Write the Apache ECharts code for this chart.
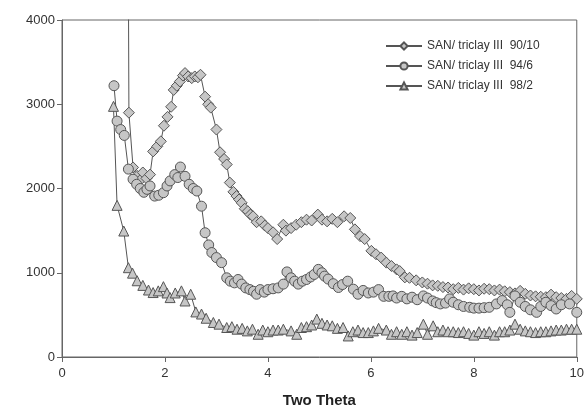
<!DOCTYPE html>
<html><head><meta charset="utf-8">
<script src="https://cdn.jsdelivr.net/npm/echarts@6/dist/echarts.min.js"></script>
<style>html,body{margin:0;padding:0;background:#fff}#c{width:587px;height:413px}</style>
</head><body><div id="c"></div>
<script>
const seriesNames = ['SAN/ triclay III  90/10', 'SAN/ triclay III  94/6', 'SAN/ triclay III  98/2'];
const xTicks = [0, 2, 4, 6, 8, 10];
const yTicks = [0, 1000, 2000, 3000, 4000];

const x9010 = [1.28,1.30,1.38,1.46,1.52,1.57,1.64,1.71,1.77,1.85,1.92,1.98,2.05,2.12,2.17,2.23,2.29,2.35,2.39,2.45,2.52,2.58,2.64,2.69,2.78,2.84,2.89,3.0,3.07,3.15,3.2,3.26,3.33,3.39,3.44,3.49,3.55,3.61,3.66,3.71,3.78,3.87,3.94,4.0,4.1,4.18,4.3,4.35,4.45,4.55,4.65,4.75,4.85,4.97,5.05,5.15,5.25,5.35,5.48,5.6,5.69,5.79,5.88,6.01,6.1,6.2,6.3,6.4,6.5,6.56,6.66,6.75,6.88,7.0,7.1,7.2,7.3,7.4,7.5,7.6,7.7,7.8,7.9,8.0,8.1,8.2,8.3,8.4,8.5,8.6,8.7,8.8,8.9,9.0,9.1,9.2,9.3,9.4,9.5,9.6,9.7,9.8,9.9,10.0];
const y9010 = [6000,2900,2250,2150,2100,2190,2120,2165,2440,2500,2560,2745,2850,2970,3170,3220,3270,3340,3370,3330,3310,3330,3320,3350,3090,3000,2960,2700,2430,2350,2285,2070,1960,1910,1870,1830,1760,1730,1690,1670,1600,1610,1560,1530,1480,1400,1570,1500,1530,1570,1600,1630,1620,1690,1630,1610,1640,1600,1670,1650,1515,1435,1400,1260,1220,1180,1120,1080,1040,1020,945,940,910,885,870,850,845,830,825,805,820,800,815,805,790,810,805,790,800,780,770,755,785,750,730,720,715,710,740,710,700,690,725,690];

const x946 = [1.01,1.07,1.14,1.21,1.29,1.38,1.45,1.52,1.59,1.65,1.71,1.8,1.88,1.97,2.04,2.1,2.19,2.25,2.3,2.39,2.47,2.55,2.62,2.71,2.78,2.85,2.91,3.0,3.1,3.2,3.27,3.35,3.42,3.49,3.57,3.65,3.72,3.78,3.85,3.93,4.0,4.1,4.2,4.3,4.37,4.45,4.52,4.59,4.67,4.75,4.83,4.9,4.98,5.05,5.1,5.17,5.27,5.37,5.45,5.55,5.66,5.75,5.85,5.95,6.05,6.15,6.25,6.35,6.43,6.5,6.6,6.7,6.8,6.9,7.02,7.1,7.2,7.27,7.35,7.45,7.53,7.6,7.7,7.8,7.92,8.0,8.1,8.2,8.3,8.44,8.55,8.65,8.7,8.8,8.9,9.0,9.1,9.22,9.3,9.4,9.5,9.6,9.7,9.86,10.0];
const y946 = [3220,2800,2700,2630,2230,2110,2050,2000,1955,1990,2030,1910,1920,1950,2030,2090,2165,2130,2255,2145,2050,2000,1970,1790,1475,1330,1240,1180,1120,940,900,880,920,865,820,800,780,745,800,770,800,810,820,865,1010,940,900,865,900,920,950,980,1040,1000,960,925,870,825,860,900,805,745,790,760,770,800,720,720,725,700,720,690,710,680,725,700,665,645,630,640,690,650,620,600,590,580,580,585,590,630,670,620,530,725,650,600,560,530,600,650,610,570,620,630,530];

const x982 = [1.0,1.07,1.2,1.29,1.37,1.46,1.57,1.68,1.77,1.87,1.97,2.04,2.1,2.2,2.32,2.39,2.5,2.6,2.71,2.8,2.94,3.05,3.2,3.3,3.4,3.5,3.6,3.7,3.81,3.9,4.0,4.1,4.2,4.3,4.45,4.56,4.65,4.75,4.85,4.95,5.05,5.15,5.25,5.35,5.46,5.56,5.65,5.75,5.85,5.95,6.05,6.15,6.3,6.4,6.5,6.6,6.7,6.8,6.9,7.02,7.1,7.21,7.3,7.4,7.5,7.6,7.7,7.8,7.9,8.0,8.1,8.2,8.3,8.4,8.5,8.6,8.7,8.8,8.9,9.0,9.1,9.2,9.3,9.4,9.5,9.6,9.7,9.8,9.9,10.0];
const y982 = [2975,1800,1495,1060,995,905,850,795,765,785,835,760,705,760,785,665,745,535,510,460,410,390,350,360,330,340,310,330,270,320,300,320,320,330,310,270,350,360,380,450,400,380,370,340,350,250,300,320,290,290,310,340,320,270,300,270,300,260,290,390,270,370,300,320,300,300,290,300,280,260,300,280,300,260,300,300,320,390,330,310,300,290,300,300,310,320,320,330,330,330];

const zip = (xs, ys) => xs.map((x, i) => [x, ys[i]]);
const lineC = '#555';
const fillC = '#c6c6c6';
function mk(name, xs, ys, sym, size) {
  return {
    name, type: 'line', data: zip(xs, ys), symbol: sym, symbolSize: size,
    showAllSymbol: true, clip: true,
    lineStyle: { color: lineC, width: 1 },
    itemStyle: { color: fillC, borderColor: lineC, borderWidth: 1 }
  };
}
const chart = echarts.init(document.getElementById('c'), null, { renderer: 'canvas' });
chart.setOption({
  animation: false,
  grid: { left: 62, right: 10, top: 20, bottom: 55, show: true, borderColor: '#666', borderWidth: 1, backgroundColor: 'transparent' },
  legend: {
    orient: 'vertical', left: 380, top: 35, itemWidth: 36, itemHeight: 9, itemGap: 8,
    textStyle: { fontFamily: 'Liberation Sans, Arial', fontSize: 12, color: '#333' },
    data: seriesNames
  },
  xAxis: {
    type: 'value', min: xTicks[0], max: xTicks[xTicks.length - 1], interval: 2,
    name: 'Two Theta', nameLocation: 'middle', nameGap: 36,
    nameTextStyle: { fontFamily: 'Liberation Sans, Arial', fontSize: 15, fontWeight: 'bold', color: '#222' },
    axisLine: { lineStyle: { color: '#666' } },
    axisTick: { inside: false, length: 5, lineStyle: { color: '#666' } },
    axisLabel: { fontFamily: 'Liberation Sans, Arial', fontSize: 13, color: '#333', margin: 10 },
    splitLine: { show: false }
  },
  yAxis: {
    type: 'value', min: yTicks[0], max: yTicks[yTicks.length - 1], interval: 1000,
    axisLine: { show: true, lineStyle: { color: '#666' } },
    axisTick: { show: true, inside: false, length: 5, lineStyle: { color: '#666' } },
    axisLabel: { fontFamily: 'Liberation Sans, Arial', fontSize: 13, color: '#333', margin: 7, formatter: v => String(v) },
    splitLine: { show: false }
  },
  series: [
    mk(seriesNames[0], x9010, y9010, 'diamond', 11),
    mk(seriesNames[1], x946, y946, 'circle', 10),
    mk(seriesNames[2], x982, y982, 'triangle', 10)
  ]
});
</script></body></html>
